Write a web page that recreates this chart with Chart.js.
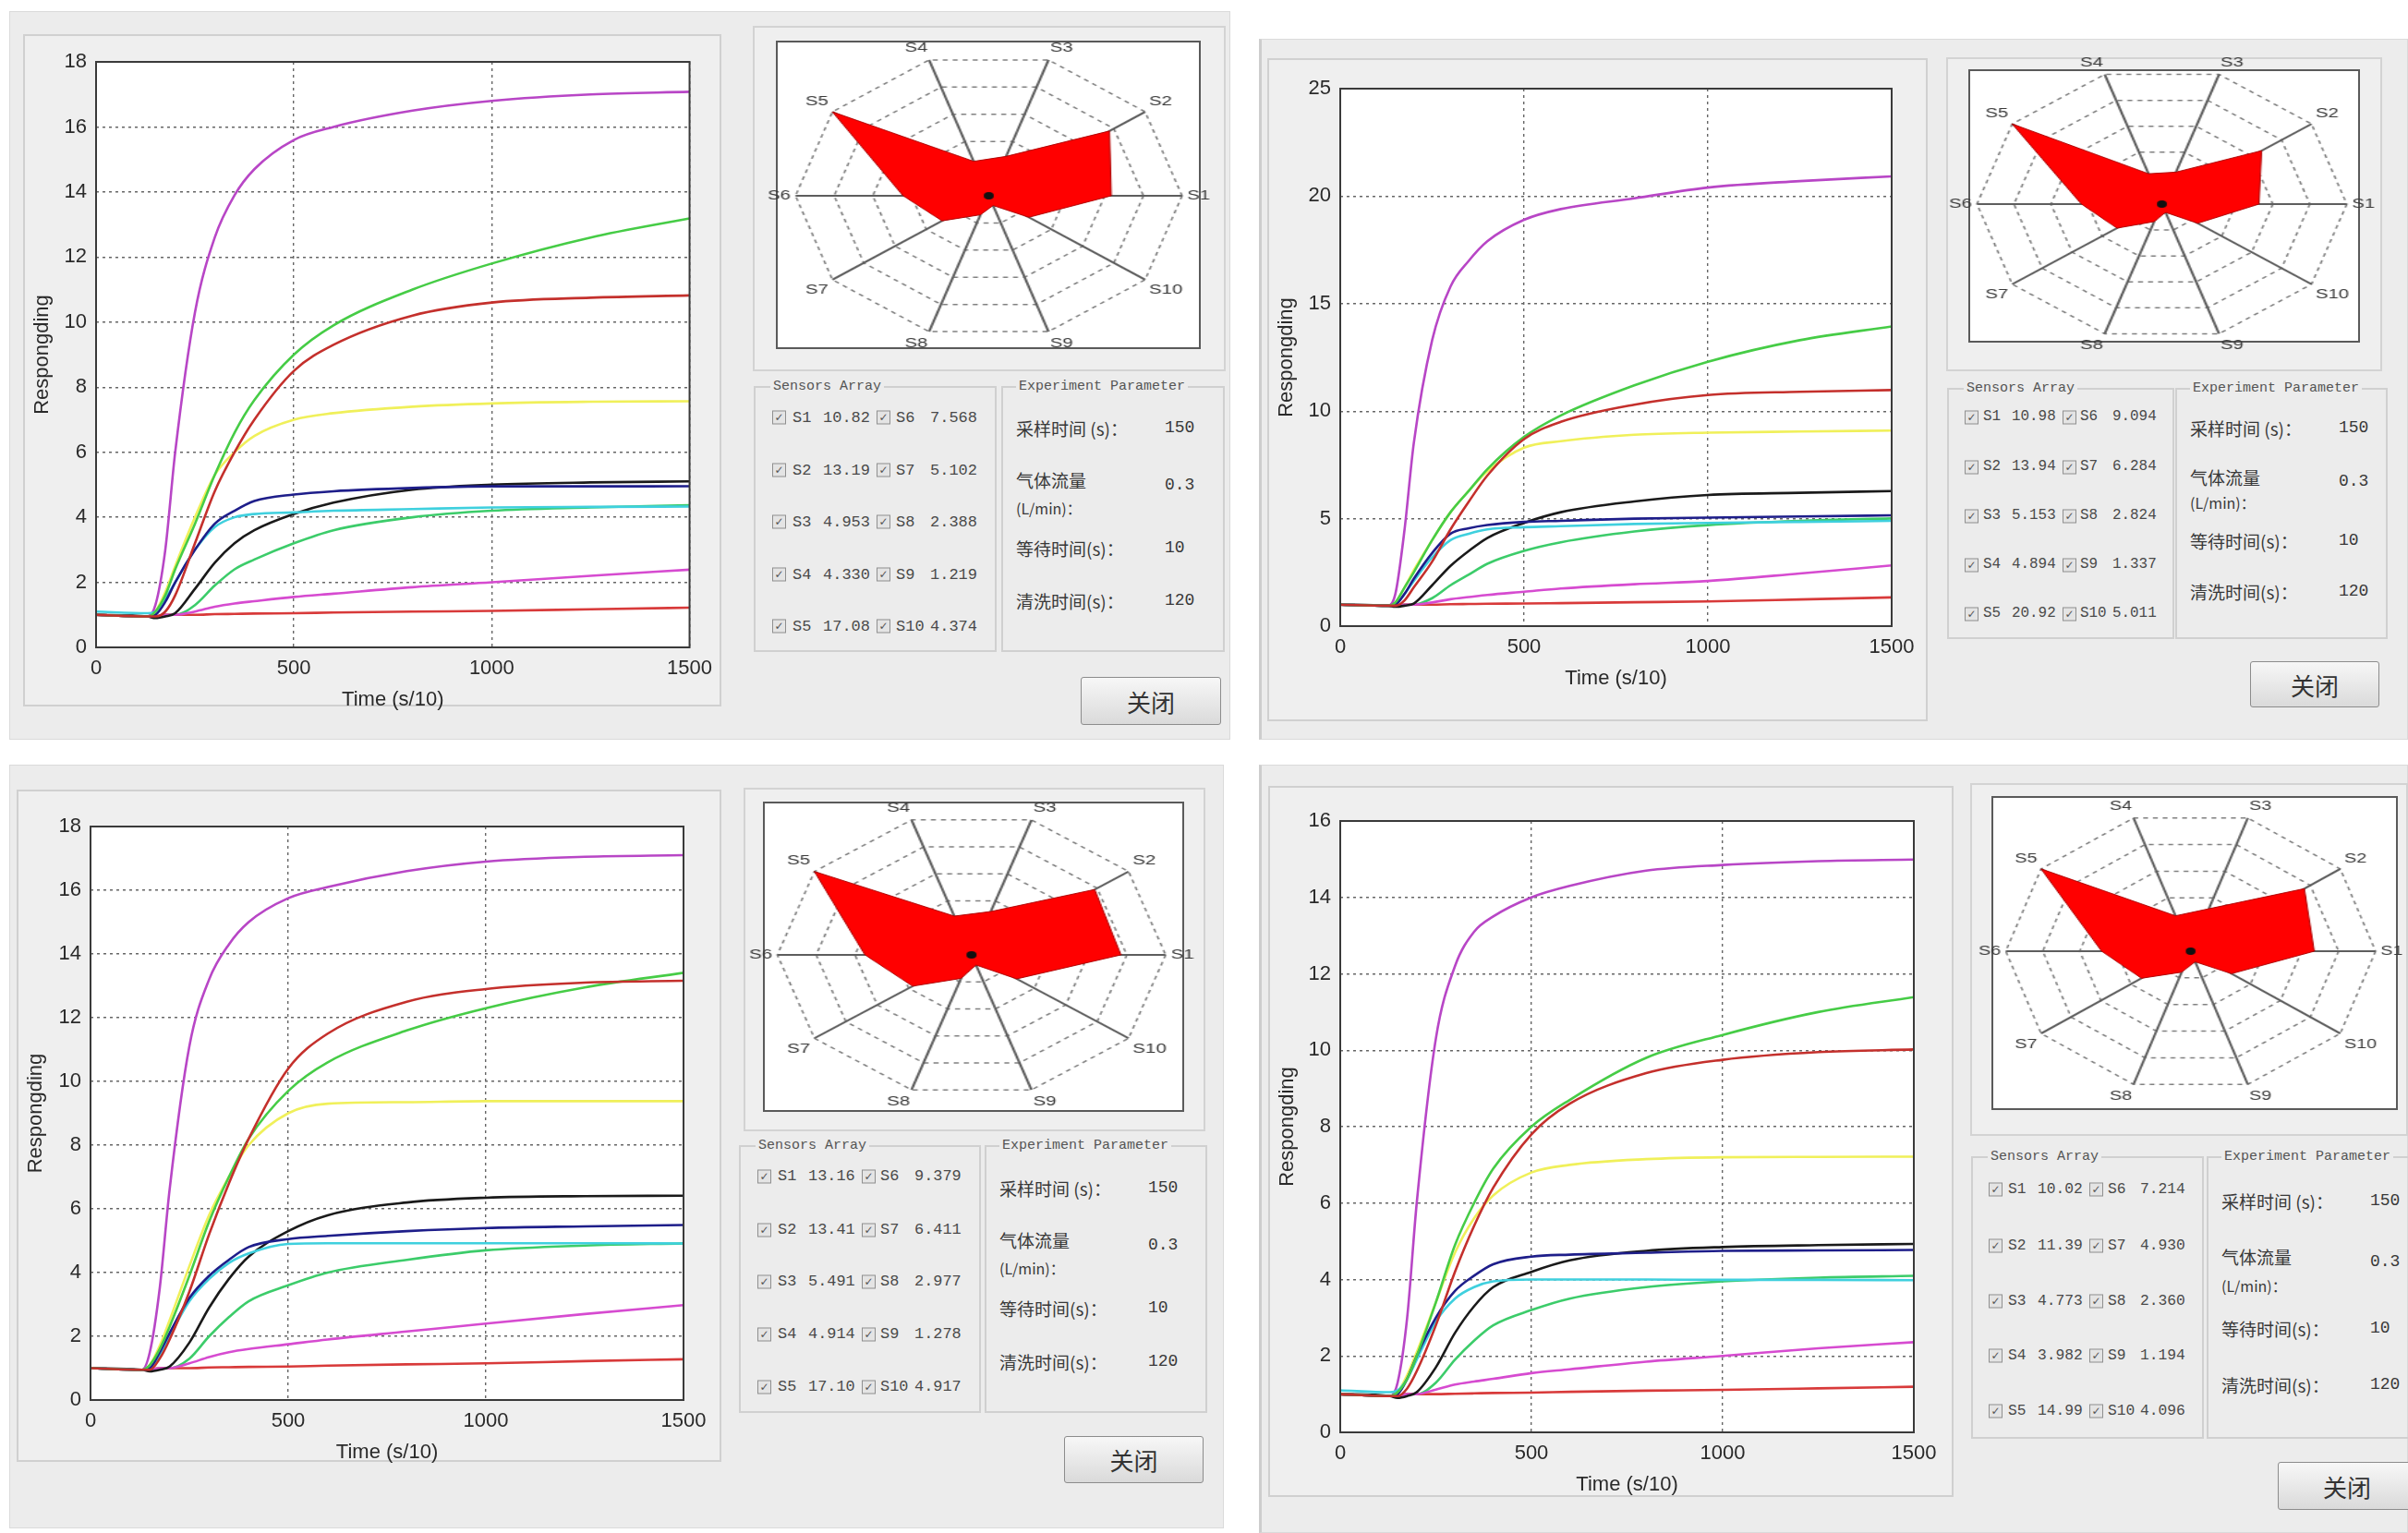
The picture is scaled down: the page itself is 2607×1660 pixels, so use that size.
<!DOCTYPE html>
<html lang="zh-CN">
<head>
<meta charset="UTF-8">
<title>Sensor array response</title>
<script src="https://cdn.jsdelivr.net/npm/chart.js"></script>
<style>
  html, body { margin: 0; padding: 0; }
  body { width: 2607px; height: 1660px; background: #fff; position: relative; overflow: hidden; }
  .abs { position: absolute; box-sizing: border-box; }
  .panel { background: #ececec; border: 1px solid #dadada; }
  .panel.edge { border-left: 3px solid #cdcdcd; }
  .frame { background: #efefef; border: 2px solid #d0d0d0; }
  .radar-outer { background: #efefef; border: 2px solid #d3d3d3; }
  .radar-inner { background: #fff; border: 2px solid #5a5a5a; }
  .group { border: 2px solid #d0d0d0; }
  .legend { position: absolute; top: -11px; background: #ececec; padding: 0 3px; font: 15px 'Liberation Mono', monospace; color: #555; line-height: 20px; white-space: nowrap; }
  .cell { position: absolute; transform: translateY(-50%); font-family: 'Liberation Mono', monospace; color: #4a4a4a; white-space: nowrap; line-height: 1; }
  .cb { position: absolute; transform: translateY(-50%); box-sizing: border-box; width: 15px; height: 15px; border: 1px solid #8f8f8f; background: #e4e4e4; font: 12px 'DejaVu Sans', sans-serif; line-height: 13px; text-align: center; color: #555; }
  .param { position: absolute; transform: translateY(-50%); font-family: 'Noto Sans CJK SC', sans-serif; font-size: 19px; color: #383838; white-space: nowrap; line-height: 1; }
  .pval { position: absolute; transform: translateY(-50%); font-family: 'Liberation Mono', monospace; font-size: 18px; color: #383838; white-space: nowrap; line-height: 1; }
  .btn { background: linear-gradient(#f7f7f7, #dadada); border: 1px solid #8c8c8c; border-radius: 3px; font: 26px 'Noto Sans CJK SC', sans-serif; color: #333; display: flex; align-items: center; justify-content: center; }
</style>
</head>
<body>
<script>
// sampling instants (s/10), shared by every curve
const TIME = [0, 130, 150, 175, 200, 250, 300, 350, 400, 500, 600, 800, 1000, 1250, 1500];
const SENSORS = ['S1', 'S2', 'S3', 'S4', 'S5', 'S6', 'S7', 'S8', 'S9', 'S10'];
const X_MAX = 1500;
const X_STEP = 500;

// experiment parameter box
const PARAM_LABELS = ['采样时间 (s)：', '气体流量', '等待时间(s)：', '清洗时间(s)：'];
const PARAM_UNIT = '(L/min)：';
const PARAM_VALUES = ['150', '0.3', '10', '120'];

// ---- panel 1 (top left) ----
const p1S1  = [1.0, 0.95, 0.95, 1.1, 1.6, 3.2, 4.8, 6.0, 7.0, 8.5, 9.3, 10.2, 10.6, 10.75, 10.82];
const p1S2  = [1.0, 0.95, 1.1, 1.6, 2.4, 3.8, 5.3, 6.6, 7.6, 9.0, 9.9, 11.0, 11.8, 12.6, 13.19];
const p1S3  = [1.0, 0.95, 1.0, 1.4, 2.0, 3.0, 3.8, 4.2, 4.5, 4.7, 4.8, 4.9, 4.95, 4.95, 4.953];
const p1S4  = [1.1, 1.05, 1.1, 1.5, 2.0, 3.0, 3.7, 4.0, 4.1, 4.15, 4.2, 4.25, 4.3, 4.32, 4.330];
const p1S5  = [1.0, 0.95, 1.3, 3.0, 6.0, 10.3, 12.6, 13.9, 14.7, 15.6, 16.0, 16.5, 16.8, 17.0, 17.08];
const p1S6  = [1.0, 0.95, 1.1, 1.7, 2.5, 4.0, 5.3, 6.0, 6.5, 7.0, 7.2, 7.4, 7.5, 7.55, 7.568];
const p1S7  = [1.0, 0.95, 0.9, 0.95, 1.05, 1.8, 2.6, 3.2, 3.6, 4.1, 4.45, 4.85, 5.0, 5.07, 5.102];
const p1S8  = [1.0, 0.95, 0.95, 1.0, 1.0, 1.1, 1.25, 1.35, 1.42, 1.55, 1.65, 1.85, 2.0, 2.2, 2.388];
const p1S9  = [1.0, 0.95, 0.95, 1.0, 1.0, 1.0, 1.02, 1.03, 1.04, 1.05, 1.07, 1.1, 1.12, 1.17, 1.219];
const p1S10 = [1.0, 0.95, 0.95, 1.0, 1.0, 1.3, 1.9, 2.4, 2.7, 3.2, 3.6, 4.0, 4.2, 4.3, 4.374];
const p1Readings = [10.82, 13.19, 4.953, 4.330, 17.08, 7.568, 5.102, 2.388, 1.219, 4.374];
const p1YMax = 18, p1YStep = 2;

// ---- panel 2 (top right) ----
const p2S1  = [1.0, 0.95, 0.95, 1.2, 1.8, 3.0, 4.5, 5.8, 7.0, 8.7, 9.5, 10.3, 10.75, 10.9, 10.98];
const p2S2  = [1.0, 0.95, 1.1, 1.8, 2.5, 4.0, 5.3, 6.3, 7.3, 8.8, 9.8, 11.2, 12.3, 13.3, 13.94];
const p2S3  = [1.0, 0.95, 1.0, 1.5, 2.2, 3.4, 4.3, 4.55, 4.7, 4.85, 4.9, 5.0, 5.05, 5.1, 5.153];
const p2S4  = [1.0, 0.95, 1.0, 1.5, 2.1, 3.2, 4.0, 4.3, 4.5, 4.6, 4.65, 4.75, 4.8, 4.85, 4.894];
const p2S5  = [1.0, 0.95, 1.5, 4.5, 8.5, 13.3, 15.8, 17.0, 17.9, 18.9, 19.4, 19.9, 20.4, 20.7, 20.92];
const p2S6  = [1.0, 0.95, 1.1, 1.8, 2.6, 4.0, 5.3, 6.3, 7.2, 8.3, 8.6, 8.9, 9.0, 9.05, 9.094];
const p2S7  = [1.0, 0.95, 0.9, 0.95, 1.05, 1.9, 2.8, 3.5, 4.1, 4.8, 5.3, 5.8, 6.1, 6.2, 6.284];
const p2S8  = [1.0, 0.95, 0.95, 1.0, 1.0, 1.1, 1.25, 1.35, 1.45, 1.6, 1.75, 1.95, 2.1, 2.45, 2.824];
const p2S9  = [1.0, 0.95, 0.95, 1.0, 1.0, 1.0, 1.02, 1.03, 1.04, 1.05, 1.07, 1.11, 1.15, 1.24, 1.337];
const p2S10 = [1.0, 0.95, 0.95, 1.0, 1.0, 1.3, 1.9, 2.4, 2.9, 3.5, 3.9, 4.4, 4.7, 4.9, 5.011];
const p2Readings = [10.98, 13.94, 5.153, 4.894, 20.92, 9.094, 6.284, 2.824, 1.337, 5.011];
const p2YMax = 25, p2YStep = 5;

// ---- panel 3 (bottom left) ----
const p3S1  = [1.0, 0.95, 0.95, 1.3, 1.9, 3.4, 5.2, 6.8, 8.2, 10.4, 11.5, 12.5, 12.9, 13.1, 13.16];
const p3S2  = [1.0, 0.95, 1.1, 1.6, 2.3, 3.9, 5.6, 7.0, 8.2, 9.7, 10.6, 11.6, 12.3, 12.95, 13.41];
const p3S3  = [1.0, 0.95, 1.0, 1.5, 2.1, 3.2, 3.9, 4.4, 4.8, 5.05, 5.15, 5.3, 5.4, 5.45, 5.491];
const p3S4  = [1.0, 0.95, 1.0, 1.4, 2.0, 3.1, 3.8, 4.3, 4.6, 4.9, 4.92, 4.92, 4.92, 4.92, 4.914];
const p3S5  = [1.0, 0.95, 1.5, 3.5, 6.6, 11.1, 13.2, 14.3, 15.0, 15.75, 16.1, 16.6, 16.9, 17.05, 17.10];
const p3S6  = [1.0, 0.95, 1.1, 1.7, 2.5, 4.2, 5.8, 7.0, 8.0, 9.0, 9.3, 9.35, 9.38, 9.38, 9.379];
const p3S7  = [1.0, 0.95, 0.9, 0.95, 1.05, 1.8, 2.9, 3.8, 4.5, 5.3, 5.8, 6.2, 6.35, 6.4, 6.411];
const p3S8  = [1.0, 0.95, 0.95, 1.0, 1.0, 1.15, 1.35, 1.5, 1.6, 1.75, 1.9, 2.15, 2.4, 2.7, 2.977];
const p3S9  = [1.0, 0.95, 0.95, 1.0, 1.0, 1.0, 1.02, 1.03, 1.04, 1.05, 1.08, 1.12, 1.15, 1.22, 1.278];
const p3S10 = [1.0, 0.95, 0.95, 1.0, 1.0, 1.3, 2.0, 2.6, 3.1, 3.6, 4.0, 4.4, 4.7, 4.85, 4.917];
const p3Readings = [13.16, 13.41, 5.491, 4.914, 17.10, 9.379, 6.411, 2.977, 1.278, 4.917];
const p3YMax = 18, p3YStep = 2;

// ---- panel 4 (bottom right) ----
const p4S1  = [1.0, 0.95, 0.95, 1.15, 1.6, 2.8, 4.2, 5.4, 6.4, 7.8, 8.6, 9.4, 9.75, 9.95, 10.02];
const p4S2  = [1.0, 0.95, 1.05, 1.4, 2.0, 3.4, 4.9, 6.0, 6.9, 8.0, 8.7, 9.8, 10.4, 11.0, 11.39];
const p4S3  = [1.0, 0.95, 1.0, 1.4, 2.0, 3.0, 3.7, 4.1, 4.4, 4.6, 4.65, 4.7, 4.75, 4.76, 4.773];
const p4S4  = [1.1, 1.05, 1.1, 1.4, 1.9, 2.9, 3.5, 3.8, 3.95, 4.0, 4.0, 4.0, 3.99, 3.99, 3.982];
const p4S5  = [1.0, 0.95, 1.3, 3.0, 6.0, 10.3, 12.2, 13.1, 13.5, 14.0, 14.3, 14.7, 14.85, 14.95, 14.99];
const p4S6  = [1.0, 0.95, 1.05, 1.5, 2.1, 3.4, 4.7, 5.6, 6.2, 6.8, 7.0, 7.15, 7.2, 7.21, 7.214];
const p4S7  = [1.0, 0.95, 0.9, 0.95, 1.05, 1.7, 2.6, 3.3, 3.8, 4.2, 4.5, 4.75, 4.85, 4.9, 4.930];
const p4S8  = [1.0, 0.95, 0.95, 1.0, 1.0, 1.12, 1.25, 1.33, 1.4, 1.55, 1.65, 1.85, 2.0, 2.2, 2.360];
const p4S9  = [1.0, 0.95, 0.95, 1.0, 1.0, 1.0, 1.01, 1.02, 1.03, 1.04, 1.06, 1.09, 1.11, 1.15, 1.194];
const p4S10 = [1.0, 0.95, 0.95, 1.0, 1.0, 1.3, 1.9, 2.4, 2.8, 3.2, 3.5, 3.8, 3.95, 4.05, 4.096];
const p4Readings = [10.02, 11.39, 4.773, 3.982, 14.99, 7.214, 4.930, 2.360, 1.194, 4.096];
const p4YMax = 16, p4YStep = 2;

const PANEL_DATA = [
  { curves: [p1S1, p1S2, p1S3, p1S4, p1S5, p1S6, p1S7, p1S8, p1S9, p1S10], readings: p1Readings, yMax: p1YMax, yStep: p1YStep },
  { curves: [p2S1, p2S2, p2S3, p2S4, p2S5, p2S6, p2S7, p2S8, p2S9, p2S10], readings: p2Readings, yMax: p2YMax, yStep: p2YStep },
  { curves: [p3S1, p3S2, p3S3, p3S4, p3S5, p3S6, p3S7, p3S8, p3S9, p3S10], readings: p3Readings, yMax: p3YMax, yStep: p3YStep },
  { curves: [p4S1, p4S2, p4S3, p4S4, p4S5, p4S6, p4S7, p4S8, p4S9, p4S10], readings: p4Readings, yMax: p4YMax, yStep: p4YStep }
];

// line colours, S1..S10
const LINE_COLORS = ['#c4302c', '#46cc46', '#1e1e8a', '#3fd0de', '#b846c6', '#f0f05a', '#1a1a1a', '#d64bd0', '#d83a3a', '#3ccc6a'];
// radar goes counter-clockwise from S1 at 3 o'clock
const RADAR_ORDER = [0, 9, 8, 7, 6, 5, 4, 3, 2, 1];

// layout in page pixels: [left, top, width, height]; axes = [left, top, right, bottom]
const LAYOUT = [
  { bg: [10, 12, 1322, 789], edge: false, frame: [25, 37, 756, 728], axes: [104, 67, 754, 701],
    rOuter: [815, 28, 512, 374], rInner: [840, 44, 460, 334], rc: [1070, 213], rh: 207, rv: 153,
    sa: [816, 418, 263, 288], ep: [1084, 418, 242, 288], btn: [1170, 733, 152, 52] },
  { bg: [1363, 42, 1244, 759], edge: true, frame: [1372, 63, 715, 718], axes: [1451, 96, 2048, 678],
    rOuter: [2107, 62, 472, 340], rInner: [2131, 75, 424, 296], rc: [2341, 222], rh: 198, rv: 146,
    sa: [2108, 420, 246, 272], ep: [2355, 420, 230, 272], btn: [2436, 716, 140, 50] },
  { bg: [10, 828, 1315, 827], edge: false, frame: [18, 855, 763, 728], axes: [98, 895, 740, 1516],
    rOuter: [805, 853, 500, 372], rInner: [826, 868, 456, 336], rc: [1052, 1035], rh: 208, rv: 152,
    sa: [800, 1240, 262, 290], ep: [1066, 1240, 241, 290], btn: [1152, 1555, 151, 51] },
  { bg: [1363, 828, 1244, 832], edge: true, frame: [1373, 851, 742, 770], axes: [1451, 889, 2072, 1551],
    rOuter: [2133, 848, 474, 382], rInner: [2156, 862, 440, 340], rc: [2372, 1031], rh: 198, rv: 150,
    sa: [2134, 1252, 252, 306], ep: [2389, 1252, 230, 306], btn: [2466, 1583, 150, 52] }
];
const X_AXIS_H = 72;
const SA_ROW_Y = [0.11, 0.31, 0.505, 0.70, 0.895];

Chart.defaults.font.family = "'Liberation Sans', Arial, sans-serif";

function div(cls, r, parent, text) {
  const d = document.createElement('div');
  d.className = cls;
  if (r) {
    d.style.left = r[0] + 'px';
    d.style.top = r[1] + 'px';
    if (r[2] != null) d.style.width = r[2] + 'px';
    if (r[3] != null) d.style.height = r[3] + 'px';
  }
  if (text != null) d.textContent = text;
  (parent || document.body).appendChild(d);
  return d;
}

// white plotting area and the dark box round it
const plotBox = {
  id: 'plotBox',
  beforeDraw(chart) {
    const { ctx, chartArea: a } = chart;
    ctx.save();
    ctx.fillStyle = '#fff';
    ctx.fillRect(a.left, a.top, a.width, a.height);
    ctx.restore();
  },
  afterDraw(chart) {
    const { ctx, chartArea: a } = chart;
    ctx.save();
    ctx.strokeStyle = '#3a3a3a';
    ctx.lineWidth = 2;
    ctx.strokeRect(a.left, a.top, a.width, a.height);
    ctx.restore();
  }
};

// small dark hub in the middle of the radar
const hub = {
  id: 'hub',
  afterDatasetsDraw(chart) {
    const s = chart.scales.r;
    const ctx = chart.ctx;
    ctx.save();
    ctx.fillStyle = '#111';
    ctx.beginPath();
    ctx.arc(s.xCenter, s.yCenter, 4, 0, Math.PI * 2);
    ctx.fill();
    ctx.restore();
  }
};

function buildLine(L, D) {
  const [fx, fy, fw] = L.frame;
  const [ax0, ay0, ax1, ay1] = L.axes;
  const canvas = document.createElement('canvas');
  canvas.className = 'abs';
  canvas.width = fw;
  canvas.height = ay1 + X_AXIS_H - fy;
  canvas.style.left = fx + 'px';
  canvas.style.top = fy + 'px';
  document.body.appendChild(canvas);

  const tickFont = { size: 22 };
  const gridOpts = { color: '#666', lineWidth: 1.4, drawTicks: false };
  new Chart(canvas, {
    type: 'line',
    data: {
      datasets: SENSORS.map((name, i) => ({
        label: name,
        data: TIME.map((t, k) => ({ x: t, y: D.curves[i][k] })),
        borderColor: LINE_COLORS[i],
        borderWidth: 2.6,
        pointRadius: 0,
        cubicInterpolationMode: 'monotone',
        fill: false
      }))
    },
    options: {
      responsive: false,
      animation: false,
      devicePixelRatio: 1,
      layout: { padding: { top: ay0 - fy, right: fx + fw - ax1, left: 0, bottom: 0 } },
      plugins: { legend: { display: false }, tooltip: { enabled: false } },
      scales: {
        x: {
          type: 'linear', min: 0, max: X_MAX,
          afterFit: s => { s.height = X_AXIS_H; },
          ticks: { stepSize: X_STEP, padding: 10, color: '#2a2a2a', font: tickFont, maxRotation: 0, callback: v => String(v) },
          grid: gridOpts,
          border: { display: false, dash: [3, 4] },
          title: { display: true, text: 'Time (s/10)', color: '#2a2a2a', font: { size: 22 }, padding: { top: 0, bottom: 2 } }
        },
        y: {
          type: 'linear', min: 0, max: D.yMax,
          afterFit: s => { s.width = ax0 - fx; },
          ticks: { stepSize: D.yStep, padding: 10, color: '#2a2a2a', font: tickFont, callback: v => String(v) },
          grid: gridOpts,
          border: { display: false, dash: [3, 4] },
          title: { display: true, text: 'Respongding', color: '#2a2a2a', font: { size: 22 }, padding: { top: 8, bottom: 0 } }
        }
      }
    },
    plugins: [plotBox]
  });
}

function buildRadar(L, D) {
  const [cx, cy] = L.rc;
  const size = Math.round(2 * (L.rv + 24));
  const sx = L.rh / L.rv;
  const canvas = document.createElement('canvas');
  canvas.className = 'abs';
  canvas.width = size;
  canvas.height = size;
  canvas.style.width = size + 'px';
  canvas.style.height = size + 'px';
  canvas.style.left = Math.round(cx - size * sx / 2) + 'px';
  canvas.style.top = Math.round(cy - size / 2) + 'px';
  canvas.style.transformOrigin = '0 0';
  canvas.style.transform = 'scaleX(' + sx.toFixed(3) + ')';
  document.body.appendChild(canvas);

  new Chart(canvas, {
    type: 'radar',
    data: {
      labels: RADAR_ORDER.map(i => SENSORS[i]),
      datasets: [{
        data: RADAR_ORDER.map(i => D.readings[i]),
        backgroundColor: '#ff0000',
        borderColor: '#b00000',
        borderWidth: 1,
        pointRadius: 0,
        fill: true
      }]
    },
    options: {
      responsive: false,
      animation: false,
      devicePixelRatio: 1,
      plugins: { legend: { display: false }, tooltip: { enabled: false } },
      scales: {
        r: {
          min: 0,
          max: Math.max(...D.readings),
          startAngle: 90,
          ticks: { display: false, count: 6 },
          grid: { color: '#808080', lineWidth: 1.5 },
          border: { dash: [4, 4] },
          angleLines: { color: '#5e5e5e', lineWidth: 2 },
          pointLabels: { font: { size: 15 }, color: '#3a3a3a', padding: 4 }
        }
      }
    },
    plugins: [hub]
  });
}

function buildSensors(L, D) {
  const [, , gw, gh] = L.sa;
  const g = div('abs group', L.sa);
  const lg = div('legend', null, g, 'Sensors Array');
  lg.style.left = '16px';
  const k = gw / 263;
  for (let row = 0; row < 5; row++) {
    const y = Math.round(SA_ROW_Y[row] * gh);
    [[18, 40, 73, row], [131, 152, 189, row + 5]].forEach(([cbX, nameX, valX, idx]) => {
      div('cb', [Math.round(cbX * k), y], g, '✓');
      const name = div('cell', [Math.round(nameX * k), y], g, SENSORS[idx]);
      const val = div('cell', [Math.round(valX * k), y], g, D.readings[idx].toPrecision(4));
      name.style.fontSize = val.style.fontSize = (17 * k).toFixed(1) + 'px';
    });
  }
}

function buildParams(L) {
  const [, , , gh] = L.ep;
  const g = div('abs group', L.ep);
  const lg = div('legend', null, g, 'Experiment Parameter');
  lg.style.left = '14px';
  const y = f => Math.round(f * gh);
  div('param', [14, y(0.15)], g, PARAM_LABELS[0]);
  div('param', [14, y(0.345)], g, PARAM_LABELS[1]);
  const unit = div('param', [14, y(0.45)], g, PARAM_UNIT);
  unit.style.fontSize = '16px';
  div('param', [14, y(0.60)], g, PARAM_LABELS[2]);
  div('param', [14, y(0.80)], g, PARAM_LABELS[3]);
  div('pval', [175, y(0.15)], g, PARAM_VALUES[0]);
  div('pval', [175, y(0.365)], g, PARAM_VALUES[1]);
  div('pval', [175, y(0.60)], g, PARAM_VALUES[2]);
  div('pval', [175, y(0.80)], g, PARAM_VALUES[3]);
}

LAYOUT.forEach((L, p) => {
  const D = PANEL_DATA[p];
  div('abs panel' + (L.edge ? ' edge' : ''), L.bg);
  div('abs frame', L.frame);
  div('abs radar-outer', L.rOuter);
  div('abs radar-inner', L.rInner);
  buildSensors(L, D);
  buildParams(L);
  div('abs btn', L.btn, null, '关闭');
  buildLine(L, D);
  buildRadar(L, D);
});
</script>
</body>
</html>
